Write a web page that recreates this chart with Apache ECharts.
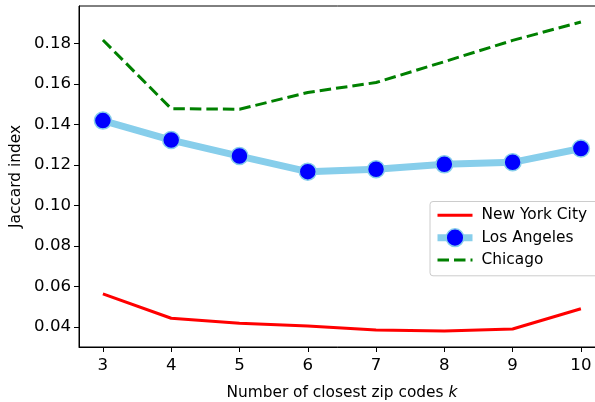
<!DOCTYPE html>
<html>
<head>
<meta charset="utf-8">
<script src="https://cdn.jsdelivr.net/npm/echarts@6/dist/echarts.min.js"></script>
<style>
  html, body { margin: 0; padding: 0; background: #fff; }
  #chart { width: 595px; height: 402px; }
</style>
</head>
<body>
<div id="chart"></div>
<script>
// Number of closest zip codes considered
const kValues = [3, 4, 5, 6, 7, 8, 9, 10];

// Jaccard index per city
const newYorkCity = [0.0563, 0.0443, 0.0418, 0.0405, 0.0385, 0.0380, 0.0390, 0.0490];
const losAngeles  = [0.1419, 0.1323, 0.1244, 0.1167, 0.1179, 0.1203, 0.1213, 0.1281];
const chicago     = [0.1817, 0.1478, 0.1475, 0.1558, 0.1607, 0.1710, 0.1815, 0.1906];

// Tick positions
const xTicks = [3, 4, 5, 6, 7, 8, 9, 10];
const yTicks = [0.04, 0.06, 0.08, 0.10, 0.12, 0.14, 0.16, 0.18];

const FONT = 'DejaVu Sans';
const TICK_SIZE = 16.6;
const NAME_SIZE = 15.4;
const pairs = ys => kValues.map((k, i) => [k, ys[i]]);

const chart = echarts.init(document.getElementById('chart'), null, { renderer: 'canvas' });

chart.setOption({
  animation: false,
  backgroundColor: '#ffffff',
  textStyle: { fontFamily: FONT },
  grid: {
    left: 79, top: 6, width: 525.8, height: 341,
    outerBoundsMode: 'none',
    containLabel: false,
    show: true, borderColor: '#000', borderWidth: 1, backgroundColor: 'transparent'
  },
  xAxis: {
    type: 'value',
    min: 2.65, max: 10.35,
    name: 'Number of closest zip codes {k|k}',
    nameLocation: 'middle',
    nameGap: 38,
    nameTextStyle: {
      fontFamily: FONT, fontSize: NAME_SIZE, color: '#000',
      rich: { k: { fontFamily: FONT, fontSize: NAME_SIZE, fontStyle: 'italic', color: '#000' } }
    },
    axisLine: { show: true, onZero: false, lineStyle: { color: '#000', width: 1 } },
    axisTick: { show: true, length: 5, lineStyle: { color: '#000', width: 1 }, customValues: xTicks },
    axisLabel: { show: true, margin: 10, fontFamily: FONT, fontSize: TICK_SIZE, color: '#000', customValues: xTicks },
    splitLine: { show: false }
  },
  yAxis: {
    type: 'value',
    min: 0.0301, max: 0.1985,
    name: 'Jaccard index',
    nameLocation: 'middle',
    nameGap: 50,
    nameTextStyle: { fontFamily: FONT, fontSize: NAME_SIZE, color: '#000' },
    axisLine: { show: true, onZero: false, lineStyle: { color: '#000', width: 1 } },
    axisTick: { show: true, length: 5, lineStyle: { color: '#000', width: 1 }, customValues: yTicks },
    axisLabel: {
      show: true, margin: 8, fontFamily: FONT, fontSize: TICK_SIZE, color: '#000',
      customValues: yTicks,
      formatter: v => v.toFixed(2)
    },
    splitLine: { show: false }
  },
  legend: {
    orient: 'vertical',
    left: 430, top: 201.5,
    padding: [5, 30, 7, 4],
    itemWidth: 35, itemHeight: 22, itemGap: 4,
    backgroundColor: 'rgba(255,255,255,0.8)',
    borderColor: '#cccccc', borderWidth: 1, borderRadius: 3,
    selectedMode: false,
    z: 10,
    textStyle: { fontFamily: FONT, fontSize: NAME_SIZE, color: '#000', padding: [0, 0, 0, 4] },
    data: [
      { name: 'New York City', lineStyle: { width: 3 }, itemStyle: { opacity: 0 } },
      { name: 'Los Angeles', lineStyle: { width: 7 }, itemStyle: { borderWidth: 1.5 } },
      { name: 'Chicago', lineStyle: { width: 3, type: [11.5, 5] }, itemStyle: { opacity: 0 } }
    ]
  },
  series: [
    {
      name: 'New York City',
      type: 'line',
      data: pairs(newYorkCity),
      symbol: 'none',
      lineStyle: { color: '#ff0000', width: 3 },
      itemStyle: { color: '#ff0000' },
      emphasis: { disabled: true }
    },
    {
      name: 'Los Angeles',
      type: 'line',
      data: pairs(losAngeles),
      symbol: 'circle',
      symbolSize: 17,
      lineStyle: { color: '#87ceeb', width: 7 },
      itemStyle: { color: '#0000ff', borderColor: '#87ceeb', borderWidth: 1.5 },
      emphasis: { disabled: true }
    },
    {
      name: 'Chicago',
      type: 'line',
      data: pairs(chicago),
      symbol: 'none',
      lineStyle: { color: '#008000', width: 3, type: [11.5, 5] },
      itemStyle: { color: '#008000' },
      emphasis: { disabled: true }
    }
  ]
});
</script>
</body>
</html>
